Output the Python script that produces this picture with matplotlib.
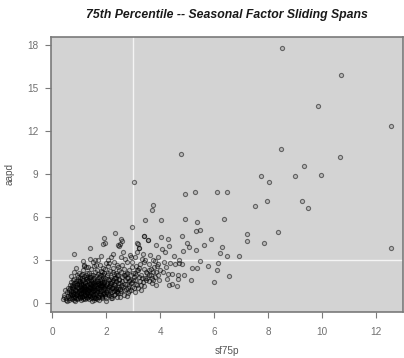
import numpy as np
import matplotlib
matplotlib.use("Agg")
import matplotlib.pyplot as plt

plt.rcParams['font.family'] = ['Liberation Sans', 'DejaVu Sans']

TITLE = "75th Percentile -- Seasonal Factor Sliding Spans"
XLABEL = "sf75p"
YLABEL = "aapd"
XTICKS = [0, 2, 4, 6, 8, 10, 12]
YTICKS = [0, 3, 6, 9, 12, 15, 18]
REF_X = 3
REF_Y = 3

band_a = [(0.42,0.46),(0.52,0.35),(0.45,0.60),(0.55,0.80),(0.60,0.93),(0.64,1.28),(0.50,0.25),
          (0.58,0.50),(0.62,0.70),(0.66,1.05),(0.68,0.40),(0.70,0.62),(0.48,0.90),(0.57,1.10),
          (0.69,1.50),(0.40,0.30),(0.55,0.18),(0.63,0.22)]
band_b = [(0.72,0.30),(0.74,0.55),(0.75,0.80),(0.76,1.00),(0.78,1.20),(0.80,1.45),(0.82,1.70),
          (0.71,1.90),(0.79,3.43),(0.84,0.45),(0.86,0.70),(0.88,0.95),(0.90,1.15),(0.92,1.35),
          (0.94,1.60),(0.96,1.85),(0.98,2.10),(0.73,1.30),(0.77,0.65),(0.81,0.38),(0.83,0.90),
          (0.85,1.25),(0.87,1.55),(0.89,0.58),(0.91,0.82),(0.93,0.30),(0.95,1.05),(0.97,1.40),
          (0.99,0.75),(0.80,2.20),(0.88,2.45),(0.76,1.65),(0.92,1.95),(0.85,0.20),(0.97,0.50)]
band_c = [(1.01,0.35),(1.02,1.20),(1.03,0.60),(1.04,1.75),(1.05,0.90),(1.06,0.25),(1.07,1.45),
          (1.08,0.75),(1.09,2.05),(1.10,1.10),(1.11,0.50),(1.12,1.60),(1.13,0.85),(1.14,2.30),
          (1.15,1.30),(1.16,0.40),(1.17,1.00),(1.18,1.90),(1.19,0.65),(1.20,1.40),(1.21,0.30),
          (1.22,1.15),(1.23,2.50),(1.24,0.80),(1.25,1.70),(1.26,0.55),(1.27,1.25),(1.28,0.95),
          (1.29,2.15),(1.02,1.55),(1.05,0.70),(1.08,1.35),(1.11,0.45),(1.14,1.05),(1.17,2.70),
          (1.20,0.60),(1.23,1.85),(1.26,1.00),(1.29,0.35),(1.04,0.95),(1.10,1.80),(1.16,1.20),
          (1.22,1.50),(1.28,0.70),(1.13,2.95),(1.16,2.60),(1.07,1.95),(1.25,2.00)]
band_d = [(1.31,0.45),(1.32,1.15),(1.33,0.80),(1.34,1.60),(1.35,2.10),(1.36,0.30),(1.37,0.95),
          (1.38,1.35),(1.38,3.87),(1.39,0.60),(1.40,1.85),(1.41,1.05),(1.42,0.40),(1.43,2.40),
          (1.44,1.25),(1.45,0.70),(1.46,1.50),(1.47,0.20),(1.48,1.00),(1.49,2.00),(1.50,0.55),
          (1.51,1.40),(1.52,0.85),(1.53,1.75),(1.54,0.35),(1.55,1.20),(1.56,2.60),(1.57,0.65),
          (1.58,1.55),(1.59,0.95),(1.32,2.55),(1.35,1.75),(1.40,0.50),(1.45,1.10),(1.50,1.65),
          (1.55,0.45),(1.58,2.20),(1.34,0.90),(1.42,1.45),(1.47,0.80),(1.52,1.10),(1.57,1.30),
          (1.36,1.40),(1.44,2.00),(1.53,0.25),(1.49,2.85),(1.41,3.10),(1.59,3.00)]
band_e = [(1.61,0.40),(1.62,1.20),(1.63,0.75),(1.64,1.70),(1.65,2.30),(1.66,0.95),(1.67,0.30),
          (1.68,1.45),(1.69,2.05),(1.70,0.60),(1.71,1.10),(1.72,1.85),(1.73,0.45),(1.74,1.35),
          (1.75,2.65),(1.76,0.85),(1.77,1.60),(1.78,1.00),(1.79,2.25),(1.80,0.55),(1.81,1.25),
          (1.82,1.95),(1.83,0.35),(1.84,0.46),(1.85,1.50),(1.86,2.45),(1.87,0.90),(1.88,4.13),
          (1.88,1.75),(1.89,1.15),(1.90,4.53),(1.91,0.70),(1.92,2.10),(1.93,1.40),(1.94,0.50),
          (1.95,1.80),(1.96,4.18),(1.97,1.05),(1.98,2.80),(1.99,0.80),(1.63,2.70),(1.66,1.55),
          (1.72,0.25),(1.75,1.20),(1.78,2.00),(1.83,1.30),(1.86,0.65),(1.90,1.60),(1.94,2.40),
          (1.98,1.25),(1.68,3.05),(1.80,3.30),(1.70,1.30),(1.84,2.20)]
band_f = [(2.00,0.20),(2.01,1.35),(2.03,0.75),(2.04,2.00),(2.06,1.10),(2.07,2.60),(2.09,0.55),
          (2.10,1.60),(2.12,0.95),(2.13,2.25),(2.15,1.30),(2.16,0.40),(2.18,1.85),(2.19,3.20),
          (2.21,0.80),(2.22,1.50),(2.24,2.45),(2.25,1.05),(2.27,0.60),(2.28,1.75),(2.30,2.90),
          (2.31,1.25),(2.32,4.88),(2.33,0.90),(2.35,2.10),(2.36,1.55),(2.38,0.45),(2.39,1.95),
          (2.41,2.70),(2.42,1.15),(2.43,4.06),(2.44,0.70),(2.46,3.99),(2.46,1.65),(2.47,2.30),
          (2.49,1.00),(2.05,1.70),(2.11,2.80),(2.17,1.10),(2.23,0.35),(2.29,2.05),(2.34,1.40),
          (2.40,0.85),(2.45,2.55),(2.08,3.05),(2.26,3.45),(2.14,1.45),(2.37,1.80)]
band_g = [(2.50,0.46),(2.52,1.40),(2.52,4.11),(2.54,2.20),(2.54,4.48),(2.56,0.85),(2.58,4.34),
          (2.58,1.85),(2.60,2.70),(2.62,1.15),(2.64,0.60),(2.66,2.40),(2.68,1.60),(2.70,3.10),
          (2.72,1.00),(2.74,2.05),(2.76,1.35),(2.78,2.85),(2.80,0.75),(2.82,1.75),(2.84,2.30),
          (2.86,1.20),(2.88,3.40),(2.90,1.95),(2.92,0.95),(2.94,2.55),(2.96,1.50),(2.97,5.30),
          (2.98,2.15),(2.55,3.25),(2.65,1.95),(2.75,0.50),(2.85,1.55),(2.95,2.85),(2.62,3.60),
          (2.78,2.10),(2.90,3.20)]
band_h = [(3.02,1.10),(3.04,8.45),(3.05,2.10),(3.08,1.60),(3.10,2.60),(3.12,3.60),(3.15,4.20),
          (3.15,1.30),(3.17,4.11),(3.18,2.30),(3.20,3.83),(3.22,1.85),(3.22,3.87),(3.25,2.75),
          (3.28,0.95),(3.30,2.00),(3.32,3.10),(3.35,1.50),(3.38,4.69),(3.38,2.40),(3.40,4.71),
          (3.42,5.78),(3.42,1.75),(3.45,3.00),(3.48,2.20),(3.10,1.95),(3.20,2.45),(3.30,1.25),
          (3.40,2.85),(3.47,1.60),(3.06,3.20),(3.36,3.45)]
band_i = [(3.52,2.10),(3.54,4.41),(3.56,4.39),(3.58,1.55),(3.60,2.75),(3.62,3.35),(3.64,1.95),
          (3.66,2.40),(3.68,6.50),(3.70,1.40),(3.72,2.20),(3.73,6.85),(3.75,3.00),(3.78,2.55),
          (3.80,1.85),(3.82,2.95),(3.85,4.06),(3.85,1.25),(3.88,2.60),(3.90,3.20),(3.92,2.00),
          (3.95,1.60),(3.98,2.35),(3.60,2.00),(3.75,1.60),(3.90,2.75)]
band_j = [(4.02,4.60),(4.02,5.80),(4.05,3.78),(4.16,3.60),(4.15,2.90),(4.10,2.20),(4.28,4.48),
          (4.28,2.02),(4.31,1.28),(4.32,3.97),(4.36,2.81),(4.43,2.02),(4.43,1.35),(4.53,2.72),
          (4.62,1.18),(4.64,1.71),(4.64,1.97),(4.69,2.83),(4.79,4.72),(4.78,10.40),(4.81,2.72),
          (4.86,3.64),(4.87,1.98),(4.93,5.90),(4.93,7.62),(5.00,4.20),(4.20,2.50),(4.50,3.30),
          (4.25,1.70),(4.70,3.00)]
band_k = [(5.06,3.95),(5.15,1.62),(5.19,2.44),(5.28,7.73),(5.32,3.71),(5.32,5.02),(5.36,5.64),
          (5.36,2.44),(5.47,5.09),(5.48,2.97),(5.64,4.10),(5.78,2.60),(5.89,4.45),(6.01,1.48),
          (6.09,7.78),(6.12,2.33),(6.14,2.79),(6.23,3.53),(6.28,3.95),(6.38,5.91),(6.47,3.32),
          (6.49,7.78),(6.54,1.90),(6.93,3.32),(7.21,4.81),(7.21,4.36)]
band_outer = [(7.52,6.76),(7.73,8.87),(7.84,4.20),(7.96,7.15),(8.04,8.45),(8.37,4.99),(8.48,10.73),
              (8.52,17.80),(9.01,8.89),(9.25,7.13),(9.32,9.57),(9.48,6.66),(9.84,13.75),(9.96,8.92),
              (10.68,10.20),(10.69,15.90),(12.54,12.33),(12.56,3.85)]
band_core = [(0.65,0.55),(0.70,0.85),(0.75,0.45),(0.78,1.05),(0.82,0.62),(0.85,0.95),(0.88,0.35),
             (0.90,1.25),(0.93,0.68),(0.95,0.40),(0.98,1.10),(1.00,0.85),(1.02,0.45),(1.05,1.30),
             (1.07,0.62),(1.09,0.95),(1.12,1.35),(1.13,0.30),(1.15,0.72),(1.18,1.15),(1.19,0.48),
             (1.21,0.88),(1.24,1.28),(1.26,0.42),(1.28,1.55),(1.30,0.78),(1.32,0.58),(1.34,1.30),
             (1.37,0.48),(1.39,1.12),(1.41,0.75),(1.43,1.60),(1.46,0.92),(1.48,0.45),(1.50,1.25),
             (1.52,0.65),(1.54,1.45),(1.56,0.95),(1.59,0.38),(1.61,1.35),(1.63,0.55),(1.65,1.10),
             (1.67,0.78),(1.69,1.55),(1.71,0.42),(1.73,0.98),(1.75,1.40),(1.77,0.62),(1.79,1.18),
             (1.81,0.85),(1.83,1.62),(1.85,0.50),(1.87,1.30),(1.89,0.72),(1.91,1.05),(1.93,1.48),
             (1.95,0.62),(1.97,1.20),(1.99,0.40),(2.02,0.95),(2.04,1.45),(2.07,0.65),(2.09,1.20),
             (2.12,1.70),(2.14,0.75),(2.17,1.40),(2.19,0.52),(2.22,1.05),(2.24,1.62),(2.27,0.88),
             (2.29,1.32),(2.32,0.62),(2.34,1.80),(2.37,1.10),(2.39,0.78),(2.42,1.45),(2.45,1.00),
             (2.48,1.70),(2.51,0.70),(2.55,1.20),(2.60,1.55),(2.65,0.90),(2.70,1.35),(2.75,1.75),
             (2.80,1.10),(2.85,0.85),(2.90,1.40),(2.95,1.15),(3.00,1.60),(3.05,0.80),(3.10,1.35),
             (3.18,1.05),(3.25,1.55),(3.32,1.80),(3.40,1.20),(3.50,1.75),(3.58,2.30),(3.68,1.75),
             (3.85,2.20),(0.60,0.38),(0.68,0.72),(0.72,1.15),(0.80,0.25),(0.86,1.45),(0.92,0.55),
             (0.99,1.55),(1.06,1.05),(1.11,1.65),(1.20,0.92),(1.27,1.80),(1.35,1.05),(1.44,1.85),
             (1.53,1.08),(1.62,1.90),(1.70,0.88),(1.80,1.45),(1.88,2.00),(1.96,0.98),(2.05,2.15),
             (2.15,1.15),(2.25,2.20),(2.35,1.00),(2.44,2.00),(2.58,1.30),(2.68,2.00),(2.88,1.65),
             (3.02,1.85),(3.12,2.35)]

bands = [band_a, band_b, band_c, band_d, band_e, band_f, band_g, band_h,
         band_i, band_j, band_k, band_outer, band_core]
pts = np.array([p for b in bands for p in b])
sf75p = pts[:, 0]
aapd = pts[:, 1]

fig = plt.figure(figsize=(4.04, 3.58), dpi=100)
ax = fig.add_axes([51/404, 1 - 312/358, 352/404, (312 - 36.7)/358])
ax.set_facecolor('#d3d3d3')

ax.axvline(REF_X, color='#f4f4f4', lw=1.0, zorder=1)
ax.axhline(REF_Y, color='#f4f4f4', lw=1.0, zorder=1)

ax.scatter(sf75p, aapd, s=9, facecolors=(0, 0, 0, 0.12), edgecolors=(0, 0, 0, 0.5),
           linewidths=0.8, zorder=3)

ax.set_xlim(-0.05, 13.0)
ax.set_ylim(-0.6, 18.57)
ax.set_xticks(XTICKS)
ax.set_yticks(YTICKS)

gray = '#7a7a7a'
for s in ax.spines.values():
    s.set_color(gray)
    s.set_linewidth(1.2)
ax.tick_params(axis='both', colors=gray, length=4.5, width=0.8, labelsize=7.2,
               labelcolor='#707070', pad=4.5)
ax.tick_params(axis='x', pad=6)

ax.set_xlabel(XLABEL, fontsize=7.2, color='#555555', labelpad=7)
ax.set_ylabel(YLABEL, fontsize=7.2, color='#555555', labelpad=9)
fig.text(227/404, 1 - 15/358, TITLE, ha='center', va='center', fontsize=8.8,
         fontweight='bold', fontstyle='italic', color='#1a1a1a')

fig.savefig('out.png', dpi=100, facecolor='white')
